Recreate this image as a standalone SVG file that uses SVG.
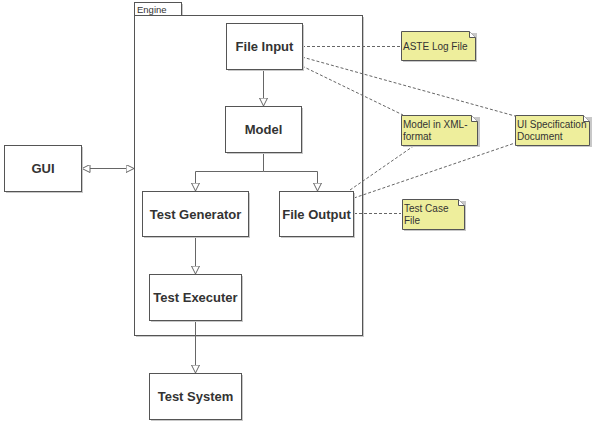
<svg xmlns="http://www.w3.org/2000/svg" width="594" height="431" viewBox="0 0 594 431">
<style>
.box{fill:#fff;stroke:#555;stroke-width:1}
.sh{fill:#c8c8c8}
.lbl{font-family:"Liberation Sans",Arial,sans-serif;font-size:13px;font-weight:bold;fill:#333;text-anchor:middle}
.note{fill:#eeee9c;stroke:#555;stroke-width:1}
.ntxt{font-family:"Liberation Sans",Arial,sans-serif;font-size:10px;fill:#333}
.ln{stroke:#666;stroke-width:1;fill:none}
.dl{stroke:#666;stroke-width:1;fill:none;stroke-dasharray:3,2}
</style>
<defs>
<marker id="tri" markerWidth="10" markerHeight="10" refX="8" refY="4" orient="auto" markerUnits="userSpaceOnUse">
<path d="M0,0 L8,4 L0,8 Z" fill="#fff" stroke="#666" stroke-width="1"/>
</marker>
<marker id="triS" markerWidth="10" markerHeight="10" refX="0" refY="4" orient="auto" markerUnits="userSpaceOnUse">
<path d="M8,0 L0,4 L8,8 Z" fill="#fff" stroke="#666" stroke-width="1"/>
</marker>
</defs>
<rect width="594" height="431" fill="#fff"/>
<g id="engine">
<rect class="sh" x="136" y="17" width="228" height="320"/>
<rect class="box" x="134.5" y="15.5" width="228" height="320"/>
<rect class="sh" x="136" y="4" width="47" height="11"/>
<rect class="box" x="134.5" y="2.5" width="47" height="13"/>
<text x="137" y="12.5" font-family="'Liberation Sans',Arial,sans-serif" font-size="9.5" fill="#333">Engine</text>
</g>
<g id="connectors">
<line class="ln" x1="263.5" y1="69" x2="263.5" y2="106" marker-end="url(#tri)"/>
<polyline class="ln" points="263.5,152 263.5,171.5 195.5,171.5 195.5,191" marker-end="url(#tri)"/>
<polyline class="ln" points="263.5,171.5 317.5,171.5 317.5,191" marker-end="url(#tri)"/>
<line class="ln" x1="195.5" y1="236" x2="195.5" y2="274" marker-end="url(#tri)"/>
<line class="ln" x1="195.5" y1="320" x2="195.5" y2="373" marker-end="url(#tri)"/>
<line class="ln" x1="82" y1="168.5" x2="134" y2="168.5" marker-start="url(#triS)" marker-end="url(#tri)"/>
<line class="dl" x1="302" y1="46.5" x2="401" y2="46.5"/>
<line class="dl" x1="302" y1="57" x2="515" y2="116"/>
<line class="dl" x1="302" y1="66" x2="403" y2="115"/>
<line class="dl" x1="350" y1="190" x2="415" y2="145"/>
<line class="dl" x1="354" y1="198" x2="515" y2="143"/>
<line class="dl" x1="354" y1="213.5" x2="401" y2="213.5"/>
</g>
<g id="fileinput">
<rect class="sh" x="228" y="25" width="76" height="46"/>
<rect class="box" x="226.5" y="23.5" width="76" height="46"/>
<text class="lbl" x="264.5" y="51">File Input</text>
</g>
<g id="model">
<rect class="sh" x="227" y="108" width="76" height="46"/>
<rect class="box" x="225.5" y="106.5" width="76" height="46"/>
<text class="lbl" x="263.5" y="134">Model</text>
</g>
<g id="testgenerator">
<rect class="sh" x="144" y="193" width="106" height="45"/>
<rect class="box" x="142.5" y="191.5" width="106" height="45"/>
<text class="lbl" x="195.5" y="218.5">Test Generator</text>
</g>
<g id="fileoutput">
<rect class="sh" x="281" y="193" width="74" height="45"/>
<rect class="box" x="279.5" y="191.5" width="74" height="45"/>
<text class="lbl" x="316.5" y="218.5">File Output</text>
</g>
<g id="testexecuter">
<rect class="sh" x="151" y="276" width="92" height="46"/>
<rect class="box" x="149.5" y="274.5" width="92" height="46"/>
<text class="lbl" x="195.5" y="302">Test Executer</text>
</g>
<g id="testsystem">
<rect class="sh" x="151" y="375" width="92" height="46"/>
<rect class="box" x="149.5" y="373.5" width="92" height="46"/>
<text class="lbl" x="195.5" y="401">Test System</text>
</g>
<g id="gui">
<rect class="sh" x="6" y="147" width="77" height="46"/>
<rect class="box" x="4.5" y="145.5" width="77" height="46"/>
<text class="lbl" x="43" y="173">GUI</text>
</g>
<g id="note-aste">
<rect class="sh" x="403" y="33" width="74" height="29"/>
<path class="note" d="M401.5,31.5 H469.5 L475.5,37.5 V60.5 H401.5 Z"/>
<path d="M469.5,31.5 V37.5 H475.5" fill="#fff" stroke="#555"/>
<text class="ntxt" x="403" y="49.5">ASTE Log File</text>
</g>
<g id="note-model">
<rect class="sh" x="403" y="117" width="77" height="30"/>
<path class="note" d="M401.5,115.5 H471.5 L477.5,121.5 V145.5 H401.5 Z"/>
<path d="M471.5,115.5 V121.5 H477.5" fill="#fff" stroke="#555"/>
<text class="ntxt" x="403" y="127.5">Model in XML-</text>
<text class="ntxt" x="403" y="139.5">format</text>
</g>
<g id="note-ui">
<rect class="sh" x="517" y="117" width="75" height="30"/>
<path class="note" d="M515.5,115.5 H583.5 L589.5,121.5 V145.5 H515.5 Z"/>
<path d="M583.5,115.5 V121.5 H589.5" fill="#fff" stroke="#555"/>
<text class="ntxt" x="517" y="127.5">UI Specification</text>
<text class="ntxt" x="517" y="139.5">Document</text>
</g>
<g id="note-testcase">
<rect class="sh" x="404" y="201" width="62" height="30"/>
<path class="note" d="M402.5,199.5 H458.5 L464.5,205.5 V229.5 H402.5 Z"/>
<path d="M458.5,199.5 V205.5 H464.5" fill="#fff" stroke="#555"/>
<text class="ntxt" x="404" y="211.5">Test Case</text>
<text class="ntxt" x="404" y="223.5">File</text>
</g>
</svg>
